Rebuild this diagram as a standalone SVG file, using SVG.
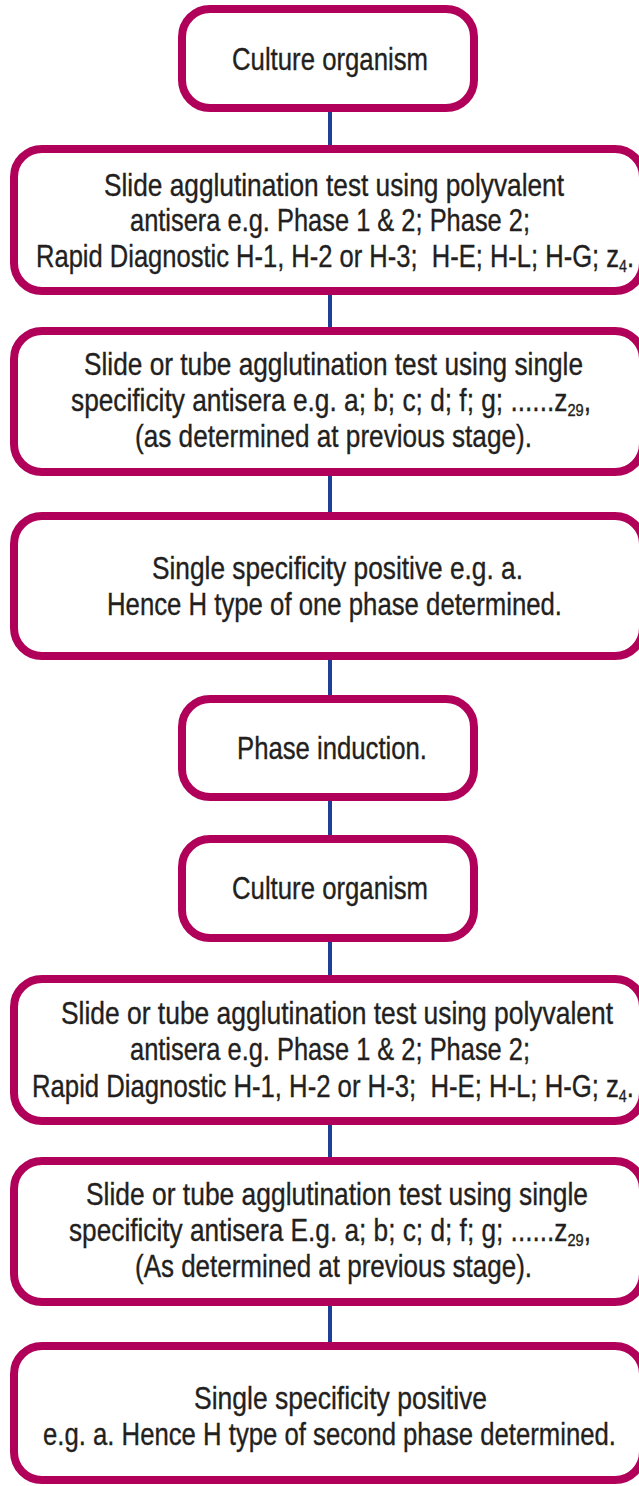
<svg xmlns="http://www.w3.org/2000/svg" width="639" height="1486" viewBox="0 0 639 1486">
  <style>
    .box { fill: #ffffff; stroke: #B1005A; stroke-width: 8; }
    .t { font-family: "Liberation Sans", Arial, sans-serif; font-size: 30.5px; fill: #231F20; stroke: #231F20; stroke-width: 0.35; }
    .sub { font-size: 17px; }
    .conn line { stroke: #1D3F97; stroke-width: 4; }
  </style>
  <rect width="639" height="1486" fill="#ffffff"/>

  <g id="connectors" class="conn">
    <line x1="330" y1="108" x2="330" y2="149"/>
    <line x1="330" y1="291" x2="330" y2="331"/>
    <line x1="330" y1="472" x2="330" y2="516"/>
    <line x1="330" y1="656" x2="330" y2="699"/>
    <line x1="330" y1="797" x2="330" y2="839"/>
    <line x1="330" y1="938" x2="330" y2="979"/>
    <line x1="330" y1="1121" x2="330" y2="1161"/>
    <line x1="330" y1="1302" x2="330" y2="1346"/>
  </g>

  <g id="n1">
    <rect class="box" x="182" y="9" width="292" height="99" rx="28"/>
    <text class="t" x="232" y="70" textLength="196" lengthAdjust="spacingAndGlyphs">Culture organism</text>
  </g>

  <g id="n2">
    <rect class="box" x="14" y="149" width="629" height="142" rx="28"/>
    <text class="t" x="104" y="196" textLength="460" lengthAdjust="spacingAndGlyphs">Slide agglutination test using polyvalent</text>
    <text class="t" x="130" y="231" textLength="400" lengthAdjust="spacingAndGlyphs">antisera e.g. Phase 1 &amp; 2; Phase 2;</text>
    <text class="t" x="36" y="267" textLength="598" lengthAdjust="spacingAndGlyphs">Rapid Diagnostic H-1, H-2 or H-3;&#160; H-E; H-L; H-G; z<tspan class="sub" dy="5">4</tspan><tspan dy="-5">.</tspan></text>
  </g>

  <g id="n3">
    <rect class="box" x="14" y="331" width="629" height="141" rx="28"/>
    <text class="t" x="84" y="375" textLength="499" lengthAdjust="spacingAndGlyphs">Slide or tube agglutination test using single</text>
    <text class="t" x="71" y="411" textLength="520" lengthAdjust="spacingAndGlyphs">specificity antisera e.g. a; b; c; d; f; g; ......z<tspan class="sub" dy="5">29</tspan><tspan dy="-5">,</tspan></text>
    <text class="t" x="135" y="447" textLength="397" lengthAdjust="spacingAndGlyphs">(as determined at previous stage).</text>
  </g>

  <g id="n4">
    <rect class="box" x="14" y="516" width="629" height="140" rx="28"/>
    <text class="t" x="152" y="579" textLength="371" lengthAdjust="spacingAndGlyphs">Single specificity positive e.g. a.</text>
    <text class="t" x="107" y="615" textLength="455" lengthAdjust="spacingAndGlyphs">Hence H type of one phase determined.</text>
  </g>

  <g id="n5">
    <rect class="box" x="182" y="699" width="292" height="98" rx="28"/>
    <text class="t" x="237" y="759" textLength="190" lengthAdjust="spacingAndGlyphs">Phase induction.</text>
  </g>

  <g id="n6">
    <rect class="box" x="182" y="839" width="292" height="99" rx="28"/>
    <text class="t" x="232" y="899" textLength="196" lengthAdjust="spacingAndGlyphs">Culture organism</text>
  </g>

  <g id="n7">
    <rect class="box" x="14" y="979" width="629" height="142" rx="28"/>
    <text class="t" x="61" y="1024" textLength="552" lengthAdjust="spacingAndGlyphs">Slide or tube agglutination test using polyvalent</text>
    <text class="t" x="130" y="1060" textLength="400" lengthAdjust="spacingAndGlyphs">antisera e.g. Phase 1 &amp; 2; Phase 2;</text>
    <text class="t" x="32" y="1097" textLength="602" lengthAdjust="spacingAndGlyphs">Rapid Diagnostic H-1, H-2 or H-3;&#160; H-E; H-L; H-G; z<tspan class="sub" dy="5">4</tspan><tspan dy="-5">.</tspan></text>
  </g>

  <g id="n8">
    <rect class="box" x="14" y="1161" width="629" height="141" rx="28"/>
    <text class="t" x="86" y="1205" textLength="502" lengthAdjust="spacingAndGlyphs">Slide or tube agglutination test using single</text>
    <text class="t" x="69" y="1241" textLength="522" lengthAdjust="spacingAndGlyphs">specificity antisera E.g. a; b; c; d; f; g; ......z<tspan class="sub" dy="5">29</tspan><tspan dy="-5">,</tspan></text>
    <text class="t" x="135" y="1277" textLength="397" lengthAdjust="spacingAndGlyphs">(As determined at previous stage).</text>
  </g>

  <g id="n9">
    <rect class="box" x="14" y="1346" width="629" height="134" rx="28"/>
    <text class="t" x="194" y="1409" textLength="293" lengthAdjust="spacingAndGlyphs">Single specificity positive</text>
    <text class="t" x="43" y="1445" textLength="573" lengthAdjust="spacingAndGlyphs">e.g. a. Hence H type of second phase determined.</text>
  </g>
</svg>
